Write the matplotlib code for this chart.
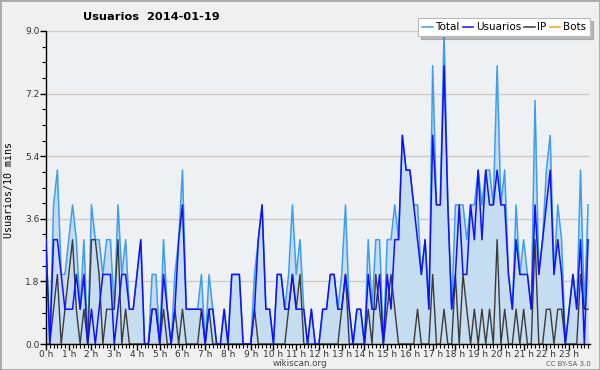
import matplotlib
matplotlib.use("Agg")
import matplotlib.pyplot as plt
from matplotlib.lines import Line2D
from matplotlib.patches import Rectangle
from matplotlib.ticker import MultipleLocator, FixedLocator

title = "Usuarios  2014-01-19"
hour_labels = ["%d h" % h for h in range(24)]
yticks = [0.0, 1.8, 3.6, 5.4, 7.2, 9.0]

# one value every 10 minutes, 0h00 -> 23h50
usuarios = [3, 0, 3, 3, 2, 1, 1, 1, 2, 1, 2, 0, 1, 0, 1, 2, 2, 2, 0, 1, 2, 2, 1, 1,
            2, 3, 0, 0, 1, 1, 0, 2, 1, 0, 1, 3, 4, 1, 1, 1, 1, 1, 0, 1, 1, 0, 0, 1,
            0, 2, 2, 2, 0, 0, 0, 1, 3, 4, 1, 1, 0, 2, 2, 1, 1, 2, 1, 1, 1, 0, 1, 0,
            0, 1, 1, 2, 2, 1, 1, 2, 1, 0, 1, 1, 0, 2, 1, 1, 2, 0, 2, 1, 3, 3, 6, 5,
            5, 4, 3, 2, 3, 1, 6, 4, 4, 8, 4, 1, 2, 4, 2, 2, 4, 3, 5, 3, 5, 4, 4, 5,
            4, 4, 2, 1, 3, 2, 2, 2, 1, 4, 2, 3, 4, 5, 2, 3, 2, 0, 1, 2, 1, 3, 0, 3]
ip = [0, 0, 1, 2, 0, 1, 2, 3, 1, 0, 1, 0, 3, 3, 2, 0, 1, 1, 1, 3, 0, 1, 0, 0,
      0, 0, 0, 0, 1, 1, 0, 1, 0, 0, 1, 0, 1, 0, 0, 0, 0, 1, 0, 1, 0, 0, 0, 0,
      0, 0, 0, 0, 0, 0, 0, 1, 0, 0, 0, 0, 0, 0, 0, 0, 1, 2, 1, 2, 0, 0, 0, 0,
      0, 0, 0, 0, 0, 0, 1, 2, 0, 0, 0, 0, 0, 1, 0, 2, 1, 0, 1, 2, 1, 0, 0, 0,
      0, 0, 1, 0, 0, 0, 2, 0, 0, 1, 0, 0, 2, 0, 2, 1, 0, 1, 0, 1, 0, 1, 0, 3,
      0, 1, 0, 0, 1, 0, 1, 0, 0, 3, 0, 0, 1, 1, 0, 1, 1, 0, 0, 0, 0, 2, 1, 1]
bots = [0, 0, 0, 0, 0, 0, 0, 0, 0, 0, 0, 0, 0, 0, 0, 0, 0, 0, 0, 0, 0, 0, 0, 0,
        0, 0, 0, 0, 0, 0, 0, 0, 0, 0, 0, 0, 0, 0, 0, 0, 0, 0, 0, 0, 0, 0, 0, 0,
        0, 0, 0, 0, 0, 0, 0, 0, 0, 0, 0, 0, 0, 0, 0, 0, 0, 0, 0, 0, 0, 0, 0, 0,
        0, 0, 0, 0, 0, 0, 0, 0, 0, 0, 0, 0, 0, 0, 0, 0, 0, 0, 0, 0, 0, 0, 0, 0,
        0, 0, 0, 0, 0, 0, 0, 0, 0, 0, 0, 0, 0, 0, 0, 0, 0, 0, 0, 0, 0, 0, 0, 0,
        0, 0, 0, 0, 0, 0, 0, 0, 0, 0, 0, 0, 0, 0, 0, 0, 0, 0, 0, 0, 0, 0, 0, 0]
total = [3, 0, 4, 5, 2, 2, 3, 4, 3, 1, 3, 0, 4, 3, 3, 2, 3, 3, 1, 4, 2, 3, 1, 1,
         2, 3, 0, 0, 2, 2, 0, 3, 1, 0, 2, 3, 5, 1, 1, 1, 1, 2, 0, 2, 1, 0, 0, 1,
         0, 2, 2, 2, 0, 0, 0, 2, 3, 4, 1, 1, 0, 2, 2, 1, 2, 4, 2, 3, 1, 0, 1, 0,
         0, 1, 1, 2, 2, 1, 2, 4, 1, 0, 1, 1, 0, 3, 1, 3, 3, 0, 3, 3, 4, 3, 6, 5,
         5, 4, 4, 2, 3, 1, 8, 4, 4, 9, 4, 1, 4, 4, 4, 3, 4, 4, 5, 4, 5, 5, 4, 8,
         4, 5, 2, 1, 4, 2, 3, 2, 1, 7, 2, 3, 5, 6, 2, 4, 3, 0, 1, 2, 1, 5, 1, 4]

c_total = "#3d9df0"
c_fill = "#c6dcf0"
c_user = "#1010ff"
c_ip = "#3a3a3a"
c_bots = "#ffa20a"

x = list(range(len(total)))

fig = plt.figure(figsize=(6, 3.7), dpi=100, facecolor="#f0f0f0")
ax = fig.add_axes([46 / 600, 26 / 370, 544 / 600, 313 / 370])
ax.set_facecolor("#eef0f2")

ax.fill_between(x, 0, total, color=c_fill, lw=0, zorder=1)
ax.plot(x, total, color=c_total, lw=1.1, zorder=3)
ax.plot(x, ip, color=c_ip, lw=1.0, zorder=4)
ax.plot(x, usuarios, color=c_user, lw=1.1, zorder=5)
ax.plot(x, bots, color=c_bots, lw=1.0, zorder=2)

ax.set_xlim(0, 143.5)
ax.set_ylim(0, 9)
ax.set_yticks(yticks)
ax.set_yticklabels(["%.1f" % v for v in yticks])
ax.yaxis.set_minor_locator(MultipleLocator(0.45))
ax.xaxis.set_major_locator(FixedLocator(range(0, 144, 6)))
ax.set_xticklabels(hour_labels)
ax.xaxis.set_minor_locator(MultipleLocator(1))
ax.grid(axis="y", color="#cccccc", lw=1, zorder=0)
ax.set_axisbelow(True)

for side in ["top", "right"]:
    ax.spines[side].set_visible(False)
ax.spines["left"].set_linewidth(1)
ax.spines["bottom"].set_linewidth(1)
ax.tick_params(axis="both", which="major", length=4, width=1, labelsize=6.5,
               colors="black", labelcolor="#333333", pad=0.5)
ax.tick_params(axis="both", which="minor", length=3, width=0.8)

fig.text(151 / 600, 1 - 17 / 370, title, ha="center", va="center",
         fontsize=8.2, fontweight="bold")
fig.text(9 / 600, 1 - 190 / 370, "Usuarios/10 mins", rotation=90,
         ha="center", va="center", fontsize=7.2, family="DejaVu Sans Mono")
fig.text(300 / 600, 1 - 364 / 370, "wikiscan.org", ha="center", va="center",
         fontsize=6.3, color="#444444")
fig.text(568 / 600, 1 - 364 / 370, "CC BY-SA 3.0", ha="center", va="center",
         fontsize=5, color="#555555")

handles = [Line2D([], [], color=c_total, lw=1.1),
           Line2D([], [], color=c_user, lw=1.1),
           Line2D([], [], color=c_ip, lw=1.1),
           Line2D([], [], color=c_bots, lw=1.1)]
leg = fig.legend(handles, ["Total", "Usuarios", "IP", "Bots"], ncol=4,
                 loc="upper right", bbox_to_anchor=(590 / 600, 1 - 18 / 370),
                 fontsize=7.5, handlelength=1.0, handletextpad=0.25,
                 columnspacing=0.3, borderpad=0.4, borderaxespad=0,
                 fancybox=False, shadow={"color": "#808080"}, framealpha=1)
leg.get_frame().set_edgecolor("#bbbbbb")
leg.get_frame().set_linewidth(0.8)

fig.patches.append(Rectangle((0, 0), 1, 1, transform=fig.transFigure,
                             fill=False, edgecolor="#a8a8a8", lw=2))

fig.savefig("out.png", dpi=100, facecolor=fig.get_facecolor())
